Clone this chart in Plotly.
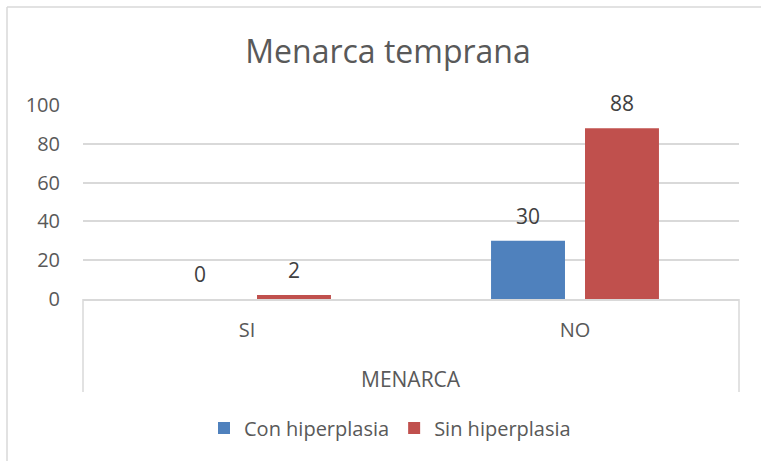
import plotly.graph_objects as go

categories = ["SI", "NO"]
con_hiperplasia = [0, 30]
sin_hiperplasia = [2, 88]
series_names = ["Con hiperplasia", "Sin hiperplasia"]
colors = ["#4f81bd", "#c0504d"]
title_text = "Menarca temprana"
group_label = "MENARCA"
y_ticks = [0, 20, 40, 60, 80, 100]

FONT = "Open Sans"
GRAY = "#595959"
LINE = "#d9d9d9"
PLOT_H = 194.0
PLOT_W = 656.0

fig = go.Figure()
for name, vals, col in zip(series_names, [con_hiperplasia, sin_hiperplasia], colors):
    fig.add_trace(go.Bar(name=name, x=categories, y=vals, marker=dict(color=col, line=dict(width=0))))

# data labels above bars
offsets = [-47, 47]
for vals, xs in zip([con_hiperplasia, sin_hiperplasia], offsets):
    for c, v in zip(categories, vals):
        fig.add_annotation(x=c, y=v, xref="x", yref="y", text=str(v), showarrow=False,
                           xshift=xs, yshift=25, yanchor="middle",
                           font=dict(family=FONT, size=21, color="#404040"))

# category box lines below axis
for xp in [0, 1]:
    fig.add_shape(type="line", xref="paper", yref="paper", x0=xp, x1=xp, y0=0, y1=-93 / PLOT_H,
                  line=dict(color=LINE, width=1.5))
fig.add_annotation(x=0.5, y=-80 / PLOT_H, xref="paper", yref="paper", text=group_label, showarrow=False,
                   yanchor="middle", font=dict(family=FONT, size=21, color=GRAY))

# outer chart border (only left/top edges visible in the crop)
bx = -76 / PLOT_W
by = (299 - 7) / PLOT_H
fig.add_shape(type="line", xref="paper", yref="paper", x0=bx, x1=bx, y0=-162 / PLOT_H, y1=by,
              line=dict(color=LINE, width=1.5), layer="below")
fig.add_shape(type="line", xref="paper", yref="paper", x0=bx, x1=(761 - 83) / PLOT_W, y0=by, y1=by,
              line=dict(color=LINE, width=1.5), layer="below")

fig.update_layout(
    width=761, height=461,
    margin=dict(l=83, r=22, t=105, b=162),
    paper_bgcolor="white", plot_bgcolor="white",
    barmode="group", bargap=0.427, bargroupgap=0.213,
    title=dict(text=title_text, x=(388 - 83) / PLOT_W, xref="paper", xanchor="center",
               y=1 - 52 / 461, yanchor="middle",
               font=dict(family=FONT, size=32, color=GRAY)),
    font=dict(family=FONT, size=21, color=GRAY),
    legend=dict(orientation="h", x=(390 - 83) / PLOT_W, xanchor="center",
                y=-129 / PLOT_H, yanchor="middle",
                font=dict(family=FONT, size=20, color=GRAY), itemwidth=30,
                traceorder="normal"),
    showlegend=True,
)
fig.update_yaxes(range=[0, 100], tickvals=y_ticks, showgrid=True, gridcolor=LINE, gridwidth=1.5,
                 zeroline=False, showline=False, ticks="", ticklabelstandoff=22,
                 tickfont=dict(family=FONT, size=20, color=GRAY), fixedrange=True)
fig.update_xaxes(showline=True, linecolor=LINE, linewidth=1.5, ticks="", ticklabelstandoff=12,
                 tickfont=dict(family=FONT, size=20, color=GRAY))

fig.write_html("out.html", config={"displayModeBar": False},
               post_script="document.body.style.margin='0';document.body.style.overflow='hidden';")
